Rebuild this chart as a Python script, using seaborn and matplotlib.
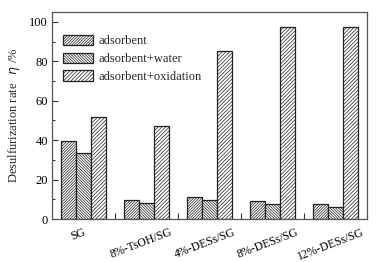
import matplotlib
matplotlib.use("Agg")
import matplotlib.pyplot as plt
import matplotlib.patches as mpatches
import matplotlib.transforms as mtransforms
from matplotlib.ticker import MultipleLocator, FixedLocator
import seaborn as sns
import pandas as pd

categories = ["SG", "8%-TsOH/SG", "4%-DESs/SG", "8%-DESs/SG", "12%-DESs/SG"]
series = ["adsorbent", "adsorbent+water", "adsorbent+oxidation"]
adsorbent = [39.7, 9.6, 11.0, 9.0, 7.8]
adsorbent_water = [33.5, 8.3, 9.6, 7.6, 6.2]
adsorbent_oxidation = [51.9, 47.4, 85.4, 97.6, 97.6]
hatches = ["/" * 12, "\\" * 12, "/" * 9]

sns.set_theme(style="ticks")
plt.rcParams["font.family"] = ["Liberation Serif", "DejaVu Serif"]
plt.rcParams["hatch.linewidth"] = 0.5
plt.rcParams["hatch.color"] = "#333333"

rows = []
for s, vals in zip(series, [adsorbent, adsorbent_water, adsorbent_oxidation]):
    for c, v in zip(categories, vals):
        rows.append({"cat": c, "series": s, "value": v})
df = pd.DataFrame(rows)

fig = plt.figure(figsize=(3.84, 2.62), dpi=100)
ax = fig.add_axes([0.1354, 0.1641, 0.9557 - 0.1354, 0.9542 - 0.1641])

sns.barplot(data=df, x="cat", y="value", hue="series", order=categories,
            hue_order=series, palette=["white"] * 3, width=0.714,
            gap=0, saturation=1, legend=False, ax=ax,
            edgecolor="#222222", linewidth=0.9)

for cont, h in zip(ax.containers, hatches):
    for bar in cont:
        bar.set_hatch(h)
        bar.set_facecolor("white")
        bar.set_edgecolor("#222222")

handles = [mpatches.Patch(facecolor="white", edgecolor="#222222", hatch=h,
                          linewidth=0.9, label=s) for h, s in zip(hatches, series)]
ax.legend(handles=handles, loc="upper left", frameon=False, fontsize=9,
          handlelength=2.4, handleheight=0.95, handletextpad=0.4,
          labelspacing=0.42, borderaxespad=0.0, bbox_to_anchor=(0.02, 0.915))

ax.set_xlim(-0.5, 4.5)
ax.set_ylim(0, 105)
ax.yaxis.set_major_locator(MultipleLocator(20))
ax.yaxis.set_minor_locator(MultipleLocator(10))
ax.xaxis.set_minor_locator(FixedLocator([0.5, 1.5, 2.5, 3.5]))
ax.tick_params(axis="y", which="major", direction="in", length=4, width=0.8,
               labelsize=9, pad=3, colors="#333333")
ax.tick_params(axis="y", which="minor", direction="in", length=2, width=0.8,
               colors="#333333")
ax.tick_params(axis="x", which="major", length=0, labelsize=8.5, pad=5)
ax.tick_params(axis="x", which="minor", direction="in", length=4, width=0.8,
               colors="#333333")
ax.set_xticks(range(len(categories)))
ax.set_xticklabels(categories, rotation=21, ha="center", rotation_mode="default")
offset = mtransforms.ScaledTranslation(-5 / 100, 0, fig.dpi_scale_trans)
for lbl in ax.get_xticklabels():
    lbl.set_transform(lbl.get_transform() + offset)
for lbl in ax.get_xticklabels() + ax.get_yticklabels():
    lbl.set_color("black")

for sp in ax.spines.values():
    sp.set_color("#555555")
    sp.set_linewidth(0.9)

ax.set_xlabel("")
ax.set_ylabel(r"Desulfurization rate   $\it{\eta}$ /%", fontsize=9, labelpad=5)

fig.savefig("out.png", dpi=100)
